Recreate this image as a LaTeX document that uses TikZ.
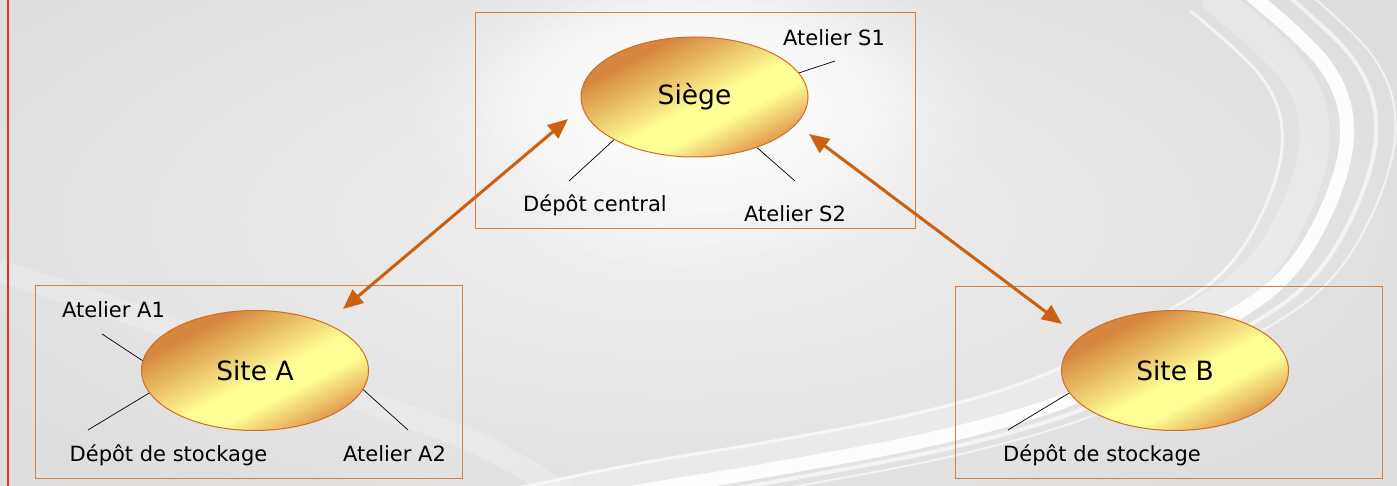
\documentclass[tikz,border=0pt]{standalone}
\usepackage{fontspec}
\setmainfont{DejaVu Sans}
\usepackage{tikz}
\usetikzlibrary{arrows.meta,shapes.geometric,fadings,positioning}

\definecolor{paper}{RGB}{240,240,240}
\definecolor{paperedge}{RGB}{222,222,222}
\definecolor{boxline}{RGB}{215,128,64}
\definecolor{ovalline}{RGB}{210,110,30}
\definecolor{ovaldark}{RGB}{214,134,62}
\definecolor{ovallight}{RGB}{255,255,150}
\definecolor{ovalrim}{RGB}{228,162,84}
\definecolor{linkcol}{RGB}{205,95,15}
\definecolor{edgered}{RGB}{225,45,45}

\pgfdeclarehorizontalshading{ovalshade}{100bp}{color(0bp)=(ovaldark); color(30bp)=(ovaldark); color(43bp)=(ovallight!55!ovaldark); color(53bp)=(ovallight); color(61bp)=(ovallight); color(73bp)=(ovalrim); color(100bp)=(ovalrim)}
\tikzfading[name=glowfade, inner color=transparent!0, outer color=transparent!100]

\begin{document}
\begin{tikzpicture}[x=1pt,y=-1pt,
  oval/.style={ellipse, draw=ovalline, line width=1pt, shade, shading=ovalshade, shading angle=-63,
    minimum width=227pt, minimum height=120pt, inner sep=0pt, font=\fontsize{26.5}{30}\selectfont},
  tag/.style={inner sep=0pt, font=\fontsize{21}{25}\selectfont},
  lead/.style={black, line width=0.7pt},
  frame/.style={boxline, line width=1pt},
  swoosh/.style={white, line cap=round},
  link/.style={linkcol, line width=3pt, {Triangle[length=20pt,width=17pt]}-{Triangle[length=20pt,width=17pt]}}]
\useasboundingbox (0,0) rectangle (1397,486);
\shade[inner color=paper, outer color=paperedge] (-150,-120) rectangle (1500,560);
\fill[white, path fading=glowfade] (700,105) ellipse (300 and 170);
\fill[white, path fading=glowfade] (700,100) ellipse (230 and 125);
\foreach \k/\w/\o in {0.90/3/0.6, 0.95/30/0.25, 1/14/0.95, 1.045/4/0.6, 1.075/2/0.6}
  \draw[swoosh, line width=\w pt, opacity=\o, shift={(700,200)}, scale=\k, shift={(-700,-200)}]
    plot[smooth, tension=0.6] coordinates {(1245,-10) (1325,65) (1347,135) (1322,220) (1270,290) (1170,350) (1067,400) (940,437) (780,468) (620,495) (450,530) (300,560)};
\draw[swoosh, line width=22pt, opacity=0.22] plot[smooth] coordinates {(-10,268) (150,320) (320,385) (470,440) (560,490)};
\draw[edgered, line width=1.5pt] (8,0) -- (8,486);

\draw[frame] (475,13) rectangle (915,229);
\draw[frame] (35,286) rectangle (462,478);
\draw[frame] (955,287) rectangle (1382,478);

\node[oval] (siege) at (694.5,97) {Siège};
\node[oval] (siteA) at (255,370.5) {Site A};
\node[oval] (siteB) at (1175,370.5) {Site B};

\node[tag] (atS1) at (834,37.5) {Atelier S1};
\node[tag] (depC) at (595,205) {Dépôt central};
\node[tag] (atS2) at (795,213.5) {Atelier S2};
\node[tag] (atA1) at (113.5,309.5) {Atelier A1};
\node[tag] (depA) at (168.5,455) {Dépôt de stockage};
\node[tag] (atA2) at (394.5,454) {Atelier A2};
\node[tag] (depB) at (1102,455) {Dépôt de stockage};

\coordinate (s1end) at (835,61);
\coordinate (dcend) at (569,181);
\coordinate (s2end) at (795,181);
\coordinate (a1end) at (102,334);
\coordinate (daend) at (88,430);
\coordinate (a2end) at (408,430);
\coordinate (dbend) at (1008,430);
\draw[lead] (siege.13) -- (s1end);
\draw[lead] (siege.208) -- (dcend);
\draw[lead] (siege.321) -- (s2end);
\draw[lead] (siteA.175) -- (a1end);
\draw[lead] (siteA.192) -- (daend);
\draw[lead] (siteA.350) -- (a2end);
\draw[lead] (siteB.192) -- (dbend);

\coordinate (siegeL) at (568,119);
\coordinate (siteAtip) at (343,309);
\coordinate (siegeR) at (809,134);
\coordinate (siteBtip) at (1062,324);
\draw[link] (siteAtip) -- (siegeL);
\draw[link] (siegeR) -- (siteBtip);
\end{tikzpicture}
\end{document}
